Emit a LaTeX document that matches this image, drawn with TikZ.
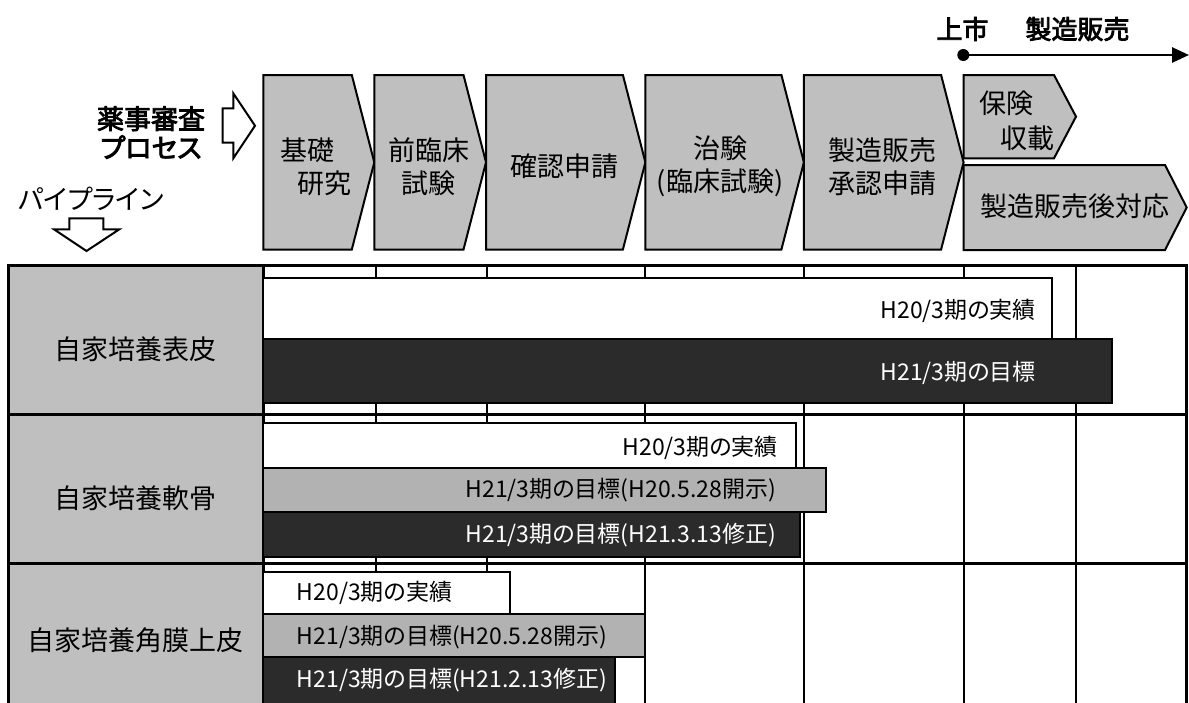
\documentclass[tikz,border=0pt]{standalone}
\usepackage{fontspec}
\setmainfont{Noto Sans CJK JP}[RawFeature=+palt]
\newfontfamily\semibold{Noto Sans CJK JP}[RawFeature=+palt, FakeBold=3]
\usepackage{tikz}
\usetikzlibrary{arrows.meta}

\begin{document}
\begin{tikzpicture}[x=1pt,y=-1pt,
  chev/.style={draw, line width=2pt, fill=chevgray},
  hollow/.style={draw, line width=2pt, fill=white},
  bigtxt/.style={font=\fontsize{27}{33}\selectfont, inner sep=0pt, align=center},
  bartxt/.style={font=\fontsize{23}{26}\selectfont, inner sep=0pt},
  barw/.style={draw, line width=2pt, fill=white},
  barg/.style={draw, line width=2pt, fill=bargray},
  bard/.style={draw, line width=2pt, fill=bardark},
  gridline/.style={line width=2pt}]

\definecolor{chevgray}{gray}{0.75}
\definecolor{labgray}{gray}{0.75}
\definecolor{bargray}{gray}{0.70}
\definecolor{bardark}{gray}{0.17}

\useasboundingbox (0,0) rectangle (1189,702);
\clip (0,0) rectangle (1189,702);

% headings on the left
\node[bigtxt, font=\semibold\fontsize{27}{29}\selectfont] (rev) at (151,132.5) {薬事審査\\プロセス};
\node[bigtxt, font=\fontsize{27}{30}\selectfont] (pipe) at (91,199) {パイプライン};

\draw[hollow] (222.7,108.3) -- (233.3,108.3) -- (233.3,93.3) -- (255,125.7)
  -- (233.3,158.3) -- (233.3,142.7) -- (222.7,142.7) -- cycle;
\draw[hollow] (69.3,218.3) -- (103.3,218.3) -- (103.3,229.3) -- (119.3,229.3)
  -- (86.5,251) -- (54,229.3) -- (69.3,229.3) -- cycle;

% process chevrons
\draw[chev] (263.3,75) -- (351.8,75) -- (374.3,162.3) -- (351.8,249.5) -- (263.3,249.5) -- cycle;
\draw[chev] (374.3,75) -- (463.5,75) -- (486.0,162.3) -- (463.5,249.5) -- (374.3,249.5) -- cycle;
\draw[chev] (486.0,75) -- (622.9,75) -- (645.4,162.3) -- (622.9,249.5) -- (486.0,249.5) -- cycle;
\draw[chev] (645.4,75) -- (781.4,75) -- (803.9,162.3) -- (781.4,249.5) -- (645.4,249.5) -- cycle;
\draw[chev] (803.9,75) -- (941.1,75) -- (963.6,162.3) -- (941.1,249.5) -- (803.9,249.5) -- cycle;
\draw[chev] (963.6,75) -- (1054,75) -- (1076,116.6) -- (1054,158.3) -- (963.6,158.3) -- cycle;
\draw[chev] (963.6,165) -- (1165,165) -- (1186.7,207.5) -- (1165,250) -- (963.6,250) -- cycle;

\node[bigtxt, align=left, anchor=west] (p1) at (280,166.7) {基礎\\\hspace*{17pt}研究};
\node[bigtxt] (p2) at (428.6,166.7) {前臨床\\試験};
\node[bigtxt] (p3) at (564,166.7) {確認申請};
\node[bigtxt] (p4) at (720,166.7) {治験\\(臨床試験)};
\node[bigtxt] (p5) at (882,166.7) {製造販売\\承認申請};
\node[bigtxt, align=left, anchor=west] (p6) at (979,120.8) {保険\\[2pt]\hspace*{21pt}収載};
\node[bigtxt] (p7) at (1075,206) {製造販売後対応};

% market launch
\node[bigtxt, font=\semibold\fontsize{26}{30}\selectfont] (mkt) at (962.5,29) {上市};
\node[bigtxt, font=\semibold\fontsize{26}{30}\selectfont] (sale) at (1077.5,29) {製造販売};
\coordinate (mk) at (963.3,55);
\coordinate (mkend) at (1189,55);
\draw[line width=2.7pt, -{Triangle[length=17pt,width=15pt]}] (mk) -- (mkend);
\fill (mk) circle (6);

% table
\fill[labgray] (8.4,265.7) rectangle (263.3,710);

\begin{scope}[gridline]
\draw (376.0,265.7) -- (376.0,710);
\draw (487.0,265.7) -- (487.0,710);
\draw (645.4,265.7) -- (645.4,710);
\draw (803.9,265.7) -- (803.9,710);
\draw (963.6,265.7) -- (963.6,710);
\draw (1076,265.7) -- (1076,710);
\end{scope}

\draw[line width=2.5pt] (8.4,710) -- (8.4,265.7) -- (1186.7,265.7) -- (1186.7,710);
\draw[line width=2.5pt] (263.3,265.7) -- (263.3,710);
\draw[line width=3pt] (8.4,414) -- (1186.7,414);
\draw[line width=3pt] (8.4,563) -- (1186.7,563);

\node[bigtxt] (l1) at (135.9,349) {自家培養表皮};
\node[bigtxt] (l2) at (135.9,498) {自家培養軟骨};
\node[bigtxt] (l3) at (135.9,640) {自家培養角膜上皮};

% bars
\draw[barw] (263.3,278.3) rectangle (1051.7,339.3);
\draw[bard] (263.3,339.3) rectangle (1112.2,403.3);
\draw[barw] (263.3,422.5) rectangle (796.3,467.7);
\draw[barg] (263.3,467.7) rectangle (825.7,512.3);
\draw[bard] (263.3,512.3) rectangle (800.1,556.7);
\draw[barw] (263.3,571.7) rectangle (510.1,613.8);
\draw[barg] (263.3,613.8) rectangle (644.6,657.2);
\draw[bard] (263.3,657.2) rectangle (614.8,720);

% bar labels
\node[bartxt, anchor=east] (a1) at (1036,311) {H20/3期の実績};
\node[bartxt, anchor=east, text=white] (b1) at (1036,373) {H21/3期の目標};
\node[bartxt, anchor=east] (a2) at (778,448) {H20/3期の実績};
\node[bartxt, anchor=east] (g2) at (776,490) {H21/3期の目標(H20.5.28開示)};
\node[bartxt, anchor=east, text=white] (b2) at (776,535) {H21/3期の目標(H21.3.13修正)};
\node[bartxt, anchor=west] (a3) at (296.7,593.3) {H20/3期の実績};
\node[bartxt, anchor=west] (g3) at (296.7,636.7) {H21/3期の目標(H20.5.28開示)};
\node[bartxt, anchor=west, text=white] (b3) at (296.7,680) {H21/3期の目標(H21.2.13修正)};

\end{tikzpicture}
\end{document}
